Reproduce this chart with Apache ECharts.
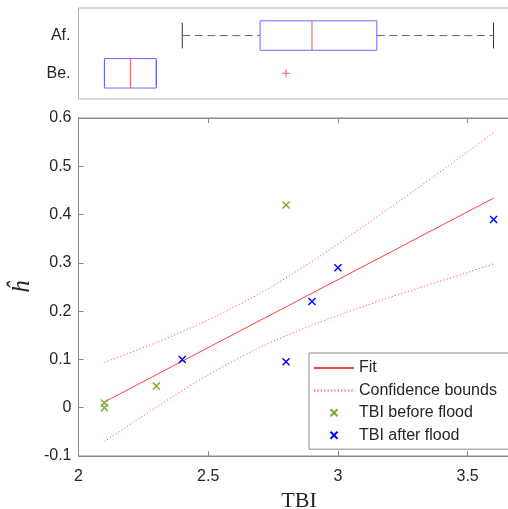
<!DOCTYPE html>
<html><head><meta charset="utf-8">
<script src="https://cdn.jsdelivr.net/npm/echarts@6/dist/echarts.min.js"></script>
<style>html,body{margin:0;padding:0;background:#fff}#c{width:508px;height:509px}</style>
</head><body><div id="c"></div>
<script>
// ---- data ----
const xTicks = [2, 2.5, 3, 3.5];
const yTicks = [-0.1, 0, 0.1, 0.2, 0.3, 0.4, 0.5, 0.6];
const groupLabels = ['Af.', 'Be.'];
const fitX = [2.1, 3.6];
const fitY = [0.012, 0.434];
const boundX = [2.1, 2.3, 2.5, 2.7, 2.9, 3.1, 3.3, 3.5, 3.6];
const upperY = [0.094, 0.135, 0.182, 0.237, 0.303, 0.376, 0.452, 0.530, 0.570];
const lowerY = [-0.070, 0.001, 0.068, 0.125, 0.171, 0.210, 0.246, 0.280, 0.298];
const beforeX = [2.1, 2.1, 2.3, 2.8];
const beforeY = [0.01, 0.0, 0.045, 0.42];
const afterX = [2.4, 2.8, 2.9, 3.0, 3.6];
const afterY = [0.10, 0.095, 0.22, 0.29, 0.39];
// box statistics: [min, q1, median, q3, max]
const afBox = [2.4, 2.7, 2.9, 3.15, 3.6];
const beBox = [2.1, 2.1, 2.2, 2.3, 2.3];
const beOutliers = [2.8];

const zip = (a, b) => a.map((v, i) => [v, b[i]]);
const TXT = '#262626', AX = '#8a8a8a';
const XSYM = 'path://M0,0L10,10M10,0L0,10';
const PSYM = 'path://M5,0L5,10M0,5L10,5';
const FITC = '#ff4040', CBC = '#ff5a5a';

function renderBox(params, api) {
  const pos = api.value(0);
  const mn = api.value(1), q1 = api.value(2), md = api.value(3), q3 = api.value(4), mx = api.value(5);
  const bh = 0.39, ch = 0.34;
  const P = (x, y) => api.coord([x, y]);
  const ln = (x1, y1, x2, y2, style) => {
    const a = P(x1, y1), b = P(x2, y2);
    return { type: 'line', shape: { x1: a[0], y1: a[1], x2: b[0], y2: b[1] }, style: style };
  };
  const dash = { stroke: '#666', lineWidth: 1, lineDash: [8, 4.5] };
  const cap = { stroke: '#333', lineWidth: 1 };
  const ch_ = [];
  if (q1 > mn) ch_.push(ln(mn, pos, q1, pos, dash));
  if (mx > q3) ch_.push(ln(q3, pos, mx, pos, dash));
  ch_.push(ln(mn, pos - ch, mn, pos + ch, cap));
  ch_.push(ln(mx, pos - ch, mx, pos + ch, cap));
  const tl = P(q1, pos - bh), br = P(q3, pos + bh);
  ch_.push({ type: 'rect', shape: { x: tl[0], y: tl[1], width: br[0] - tl[0], height: br[1] - tl[1] },
    style: { fill: 'none', stroke: '#6a6aff', lineWidth: 1 } });
  ch_.push(ln(md, pos - bh, md, pos + bh, { stroke: '#ff5050', lineWidth: 1 }));
  return { type: 'group', children: ch_ };
}

const chart = echarts.init(document.getElementById('c'), null, { renderer: 'canvas' });
chart.setOption({
  animation: false,
  backgroundColor: '#fff',
  textStyle: { fontFamily: 'Liberation Sans, Arial, sans-serif' },
  grid: [
    { left: 78.5, top: 118, width: 441, height: 338, containLabel: false, outerBoundsMode: 'none',
      show: true, borderColor: AX, borderWidth: 1, backgroundColor: '#fff' },
    { left: 78.5, top: 8, width: 441, height: 91, containLabel: false, outerBoundsMode: 'none',
      show: true, borderColor: '#b0b0b0', borderWidth: 1 }
  ],
  xAxis: [
    { gridIndex: 0, type: 'value', min: 2, max: 3.7, position: 'bottom',
      name: 'TBI', nameLocation: 'middle', nameGap: 30,
      nameTextStyle: { fontFamily: 'Liberation Serif, serif', fontSize: 22, color: TXT },
      axisLine: { onZero: false, lineStyle: { color: AX } },
      axisTick: { inside: true, length: 5, lineStyle: { color: AX }, customValues: xTicks },
      axisLabel: { color: TXT, fontSize: 16, margin: 13, customValues: xTicks, formatter: v => String(v) },
      splitLine: { show: false } },
    { gridIndex: 0, type: 'value', min: 2, max: 3.7, position: 'top',
      axisLine: { onZero: false, lineStyle: { color: AX } },
      axisTick: { inside: true, length: 5, lineStyle: { color: AX }, customValues: xTicks },
      axisLabel: { show: false }, splitLine: { show: false } },
    { gridIndex: 1, type: 'value', min: 2, max: 3.7, show: false, splitLine: { show: false } }
  ],
  yAxis: [
    { gridIndex: 0, type: 'value', min: -0.1, max: 0.6,
      name: '\u0125', nameLocation: 'middle', nameGap: 44, nameRotate: 90, nameMoveOverlap: false,
      nameTextStyle: { fontFamily: 'Liberation Serif, serif', fontStyle: 'italic', fontSize: 25, color: TXT },
      axisLine: { show: true, onZero: false, lineStyle: { color: AX } },
      axisTick: { show: true, inside: true, length: 5, lineStyle: { color: AX }, customValues: yTicks },
      axisLabel: { color: TXT, fontSize: 16, margin: 7, customValues: yTicks,
        formatter: v => Math.abs(v) < 1e-9 ? '0' : (+v).toFixed(1) },
      splitLine: { show: false } },
    { gridIndex: 1, type: 'value', min: 0.27, max: 2.68, inverse: true,
      axisLine: { show: false }, axisTick: { show: false },
      axisLabel: { color: TXT, fontSize: 16, margin: 8, customValues: [1, 2],
        formatter: v => groupLabels[Math.round(v) - 1] || '' },
      splitLine: { show: false } }
  ],
  legend: {
    orient: 'vertical', left: 309, top: 353,
    padding: [6, 20, 5, 4], itemGap: 4.4, itemWidth: 40, itemHeight: 7,
    backgroundColor: '#fff', borderColor: AX, borderWidth: 1, borderRadius: 0,
    textStyle: { color: TXT, fontSize: 16, lineHeight: 18 },
    data: [
      { name: 'Fit', itemStyle: { opacity: 0 } },
      { name: 'Confidence bounds', itemStyle: { opacity: 0 } },
      'TBI before flood', 'TBI after flood'
    ]
  },
  series: [
    { name: 'Fit', type: 'line', xAxisIndex: 0, yAxisIndex: 0, data: zip(fitX, fitY),
      symbol: 'none', lineStyle: { color: FITC, width: 1 }, itemStyle: { color: FITC }, z: 3 },
    { name: 'Confidence bounds', type: 'line', xAxisIndex: 0, yAxisIndex: 0, data: zip(boundX, upperY),
      symbol: 'none', smooth: 0.3, lineStyle: { color: CBC, width: 1, type: [1.2, 2.2] }, itemStyle: { color: CBC }, z: 3 },
    { name: 'Confidence bounds', type: 'line', xAxisIndex: 0, yAxisIndex: 0, data: zip(boundX, lowerY),
      symbol: 'none', smooth: 0.3, lineStyle: { color: CBC, width: 1, type: [1.2, 2.2] }, itemStyle: { color: CBC }, z: 3 },
    { name: 'TBI before flood', type: 'scatter', xAxisIndex: 0, yAxisIndex: 0, data: zip(beforeX, beforeY),
      symbol: XSYM, symbolSize: 7, itemStyle: { color: 'none', borderColor: '#77AC30', borderWidth: 1.4, opacity: 1 }, z: 4 },
    { name: 'TBI after flood', type: 'scatter', xAxisIndex: 0, yAxisIndex: 0, data: zip(afterX, afterY),
      symbol: XSYM, symbolSize: 7, itemStyle: { color: 'none', borderColor: '#0000ff', borderWidth: 1.4, opacity: 1 }, z: 4 },
    { name: 'box', type: 'custom', xAxisIndex: 2, yAxisIndex: 1,
      data: [[1].concat(afBox), [2].concat(beBox)],
      encode: { x: [1, 2, 3, 4, 5], y: 0 }, renderItem: renderBox, z: 3 },
    { name: 'outlier', type: 'scatter', xAxisIndex: 2, yAxisIndex: 1,
      data: beOutliers.map(v => [v, 2]), symbol: PSYM, symbolSize: 8,
      itemStyle: { color: 'none', borderColor: '#ff3030', borderWidth: 1 }, z: 4 }
  ]
});
</script></body></html>
